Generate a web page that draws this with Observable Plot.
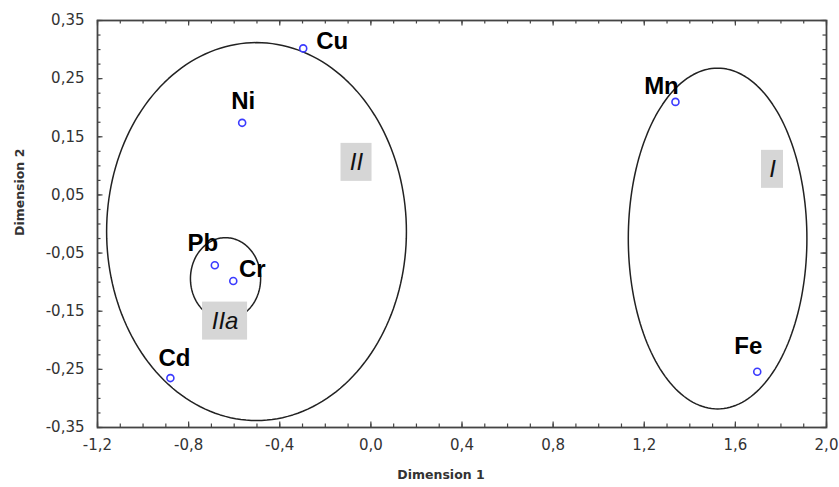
<!DOCTYPE html>
<html><head><meta charset="utf-8">
<script src="https://cdn.jsdelivr.net/npm/d3@7"></script>
<script src="https://cdn.jsdelivr.net/npm/@observablehq/plot@0.6"></script>
<style>body{margin:0;background:#fff}#chart svg{display:block}</style>
</head><body><div id="chart"></div>
<script>
// element coordinates (Dimension 1, Dimension 2)
const elements = ["Cu", "Ni", "Mn", "Pb", "Cr", "Cd", "Fe"];
const dim1 = [-0.297, -0.565, 1.337, -0.685, -0.604, -0.880, 1.696];
const dim2 = [0.302, 0.174, 0.210, -0.071, -0.098, -0.265, -0.254];

// cluster outlines (ellipses): centre and semi-axes in data units
const groups = ["I", "II", "IIa"];
const groupCx = [1.522, -0.502, -0.638];
const groupCy = [-0.025, -0.013, -0.094];
const groupRx = [0.392, 0.658, 0.154];
const groupRy = [0.293, 0.325, 0.0705];
// cluster label positions
const groupLabelX = [1.763, -0.063, -0.640];
const groupLabelY = [0.094, 0.106, -0.167];

// axis tick values
const xTickValues = [-1.2, -0.8, -0.4, 0.0, 0.4, 0.8, 1.2, 1.6, 2.0];
const yTickValues = [-0.35, -0.25, -0.15, -0.05, 0.05, 0.15, 0.25, 0.35];
const xMinorStep = 0.1;
const yMinorStep = 0.025;

// ---------- layout / style ----------
const W = 839, H = 487, mL = 97, mR = 13, mT = 20, mB = 60;
const innerW = W - mL - mR, innerH = H - mT - mB;
const font = "DejaVu Sans";
const labelFont = "Liberation Sans, Arial, sans-serif";
const labelOffset = {Cu: [29, -7], Ni: [1, -22], Mn: [-14, -16], Pb: [-12, -22], Cr: [19, -12], Cd: [4, -20], Fe: [-9, -25]};
const boxHalfW = {I: 11, II: 15.5, IIa: 22.5};
const boxHalfH = 19;

const points = elements.map((name, i) => ({name, x: dim1[i], y: dim2[i]}));
const outline = [];
groups.forEach((g, gi) => {
  for (let a = 0; a <= 360; a += 2) {
    const t = a * Math.PI / 180;
    outline.push({g, x: groupCx[gi] + groupRx[gi] * Math.cos(t), y: groupCy[gi] + groupRy[gi] * Math.sin(t)});
  }
});
const groupLabels = groups.map((g, i) => ({g, x: groupLabelX[i], y: groupLabelY[i]}));

const xMinor = d3.range(Math.round(-1.2 / xMinorStep), Math.round(2.0 / xMinorStep) + 1).map(k => +(k * xMinorStep).toFixed(3));
const yMinor = d3.range(Math.round(-0.35 / yMinorStep), Math.round(0.35 / yMinorStep) + 1).map(k => +(k * yMinorStep).toFixed(4));
const fmtX = d => d.toFixed(1).replace(".", ",");
const fmtY = d => d.toFixed(2).replace(".", ",");
const tickColor = "#444";

const marks = [
  Plot.frame({stroke: "#444", strokeWidth: 1.8}),
  // inward ticks: bottom & top
  Plot.tickX(xMinor, {x: d => d, insetTop: innerH - 3.5, stroke: tickColor, strokeWidth: 1.2}),
  Plot.tickX(xMinor, {x: d => d, insetBottom: innerH - 3.5, stroke: tickColor, strokeWidth: 1.2}),
  Plot.tickX(xTickValues, {x: d => d, insetTop: innerH - 5.5, stroke: tickColor, strokeWidth: 1.2}),
  Plot.tickX(xTickValues, {x: d => d, insetBottom: innerH - 5.5, stroke: tickColor, strokeWidth: 1.2}),
  // inward ticks: left & right
  Plot.tickY(yMinor, {y: d => d, insetRight: innerW - 3.5, stroke: tickColor, strokeWidth: 1.2}),
  Plot.tickY(yMinor, {y: d => d, insetLeft: innerW - 3.5, stroke: tickColor, strokeWidth: 1.2}),
  Plot.tickY(yTickValues, {y: d => d, insetRight: innerW - 5.5, stroke: tickColor, strokeWidth: 1.2}),
  Plot.tickY(yTickValues, {y: d => d, insetLeft: innerW - 5.5, stroke: tickColor, strokeWidth: 1.2}),
  Plot.axisX(xTickValues, {tickSize: 0, tickPadding: 12, tickFormat: fmtX, fontSize: 15, fontFamily: font, fill: "#333", label: null}),
  Plot.axisY(yTickValues, {tickSize: 0, tickPadding: 13, tickFormat: fmtY, fontSize: 15, fontFamily: font, fill: "#333", label: null}),
  Plot.text(["Dimension 1"], {text: d => d, frameAnchor: "bottom", dx: -21, dy: 51, fontSize: 12.5, fontWeight: "bold", fontFamily: font, fill: "#333"}),
  Plot.text(["Dimension 2"], {text: d => d, frameAnchor: "left", rotate: -90, dx: -78, dy: 12, fontSize: 12.5, fontWeight: "bold", fontFamily: font, fill: "#333"}),
  // cluster outlines
  Plot.line(outline, {x: "x", y: "y", z: "g", stroke: "#222", strokeWidth: 1.5}),
  // cluster label boxes
  ...groupLabels.map(d => Plot.rect([d], {x1: "x", x2: "x", y1: "y", y2: "y", fill: "#d6d6d6",
      insetLeft: -boxHalfW[d.g], insetRight: -boxHalfW[d.g], insetTop: -boxHalfH, insetBottom: -boxHalfH})),
  Plot.text(groupLabels, {x: "x", y: "y", text: "g", fontSize: 24, fontStyle: "italic", fontFamily: labelFont, fill: "#111"}),
  // points
  Plot.dot(points, {x: "x", y: "y", r: 3.5, stroke: "#3b3bff", strokeWidth: 1.6, fill: "white"}),
  ...points.map(p => Plot.text([p], {x: "x", y: "y", text: "name", dx: labelOffset[p.name][0], dy: labelOffset[p.name][1],
      fontSize: 24, fontWeight: "bold", fontFamily: labelFont, fill: "#000"}))
];

const chart = Plot.plot({
  width: W, height: H,
  marginLeft: mL, marginRight: mR, marginTop: mT, marginBottom: mB,
  x: {domain: [-1.2, 2.0]},
  y: {domain: [-0.35, 0.35]},
  style: {fontFamily: font, background: "white"},
  marks
});
document.getElementById("chart").appendChild(chart);
</script>
</body></html>
